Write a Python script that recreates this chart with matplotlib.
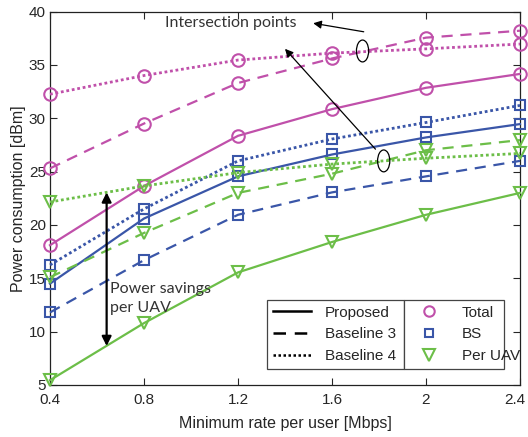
import matplotlib
matplotlib.use('Agg')
import matplotlib.pyplot as plt
import matplotlib.transforms as mtransforms
from matplotlib.lines import Line2D
from matplotlib.patches import Ellipse

# minimum rate per user [Mbps]
rates = [0.4, 0.8, 1.2, 1.6, 2.0, 2.4]
rate_labels = ['0.4', '0.8', '1.2', '1.6', '2', '2.4']

# power consumption [dBm]
total_prop = [18.1, 23.65, 28.35, 30.85, 32.85, 34.15]
total_b3 = [25.3, 29.5, 33.3, 35.6, 37.55, 38.2]
total_b4 = [32.25, 34.0, 35.45, 36.1, 36.5, 36.95]
bs_prop = [14.5, 20.6, 24.55, 26.6, 28.2, 29.45]
bs_b3 = [11.8, 16.7, 20.95, 23.05, 24.55, 26.0]
bs_b4 = [16.25, 21.5, 26.0, 28.05, 29.6, 31.2]
uav_prop = [5.45, 10.8, 15.55, 18.4, 20.95, 23.0]
uav_b3 = [15.1, 19.25, 23.0, 24.8, 27.0, 27.95]
uav_b4 = [22.15, 23.65, 24.9, 25.7, 26.25, 26.7]

MAG = '#C050AA'
BLUE = '#3A56A8'
GREEN = '#6CBE48'
TXT = '#262626'

plt.rcParams['font.family'] = ['Liberation Sans', 'DejaVu Sans']
plt.rcParams['font.size'] = 11

fig = plt.figure(figsize=(5.28, 4.37), dpi=100)
ax = fig.add_axes([50 / 528, 1 - 385 / 437, 470 / 528, 373.5 / 437])

styles = {'solid': '-', 'b3': (0, (5, 3.5)), 'b4': (0, (1, 1))}
series = [
    (total_prop, MAG, 'o', 9, 'solid'),
    (total_b3, MAG, 'o', 9, 'b3'),
    (total_b4, MAG, 'o', 9, 'b4'),
    (bs_prop, BLUE, 's', 6.5, 'solid'),
    (bs_b3, BLUE, 's', 6.5, 'b3'),
    (bs_b4, BLUE, 's', 6.5, 'b4'),
    (uav_prop, GREEN, 'v', 9, 'solid'),
    (uav_b3, GREEN, 'v', 9, 'b3'),
    (uav_b4, GREEN, 'v', 9, 'b4'),
]
for vals, c, m, ms, st in series:
    lw = 1.6 if st != 'b4' else 2.0
    ax.plot(rates, vals, color=c, ls=styles[st], lw=lw, marker=m, ms=ms,
            mfc='none', mec=c, mew=1.5, clip_on=False, zorder=3)

ax.set_xlim(0.4, 2.4)
ax.set_ylim(5, 40)
ax.set_xticks(rates)
ax.set_xticklabels(rate_labels)
ax.set_yticks(range(5, 41, 5))
ax.tick_params(direction='in', top=True, right=True, length=5,
               colors=TXT, labelsize=11)
for s in ax.spines.values():
    s.set_color('#222222')
    s.set_linewidth(0.9)
ax.tick_params(axis='x', pad=6)
ax.tick_params(axis='y', pad=3)
ax.set_xlabel('Minimum rate per user [Mbps]', color=TXT, fontsize=11.5, labelpad=6)
ax.set_ylabel('Power consumption [dBm]', color=TXT, fontsize=11.5, labelpad=2)

# keep the last x tick label inside the figure
last = ax.get_xticklabels()[-1]
last.set_transform(last.get_transform() +
                   mtransforms.ScaledTranslation(-5 / 100, 0, fig.dpi_scale_trans))

# annotations
afont = ['Lato', 'DejaVu Sans']
ax.text(1.17, 38.95, 'Intersection points', fontsize=11.5, family=afont,
        color='#333333', ha='center', va='center')
ax.add_patch(Ellipse((1.73, 36.3), 0.052, 2.05, fill=False, ec='k', lw=0.9, zorder=5))
ax.add_patch(Ellipse((1.82, 26.0), 0.052, 2.05, fill=False, ec='k', lw=0.9, zorder=5))
ax.annotate('', xy=(1.52, 38.9), xytext=(1.735, 38.1),
            arrowprops=dict(arrowstyle='-|>', color='k', lw=0.9,
                            mutation_scale=12, shrinkA=0, shrinkB=0))
ax.annotate('', xy=(1.4, 36.5), xytext=(1.785, 27.1),
            arrowprops=dict(arrowstyle='-|>', color='k', lw=0.9,
                            mutation_scale=12, shrinkA=0, shrinkB=0))
ax.annotate('', xy=(0.641, 23.05), xytext=(0.641, 8.65),
            arrowprops=dict(arrowstyle='<|-|>', color='k', lw=1.6,
                            mutation_scale=14, shrinkA=0, shrinkB=0))
ax.text(0.655, 13.1, 'Power savings\nper UAV', fontsize=11.5, family=afont,
        color='#333333', ha='left', va='center', linespacing=1.45)

# legend: line styles | marker types
h1 = [Line2D([], [], color='k', ls=styles[k], lw=1.8) for k in ['solid', 'b3', 'b4']]
h2 = [Line2D([], [], color=c, ls='none', marker=m, ms=ms, mfc='none', mec=c, mew=1.5)
      for c, m, ms in [(MAG, 'o', 7.5), (BLUE, 's', 5.5), (GREEN, 'v', 8)]]
common = dict(loc='lower left', mode='expand', fancybox=False, framealpha=1,
              edgecolor='#444444', fontsize=11, handlelength=2.5,
              labelspacing=0.5, borderpad=0.4, handletextpad=0.9,
              borderaxespad=0)
leg1 = ax.legend(h1, ['Proposed', 'Baseline 3', 'Baseline 4'],
                 bbox_to_anchor=(0.4617, 0.0428, 0.2915, 0.19), **common)
for t in leg1.get_texts():
    t.set_color(TXT)
leg1.get_frame().set_linewidth(0.9)
ax.add_artist(leg1)
leg2 = ax.legend(h2, ['Total', 'BS', 'Per UAV'],
                 bbox_to_anchor=(0.7532, 0.0428, 0.2128, 0.19), **common)
for t in leg2.get_texts():
    t.set_color(TXT)
leg2.get_frame().set_linewidth(0.9)

fig.savefig('out.png', dpi=100)
